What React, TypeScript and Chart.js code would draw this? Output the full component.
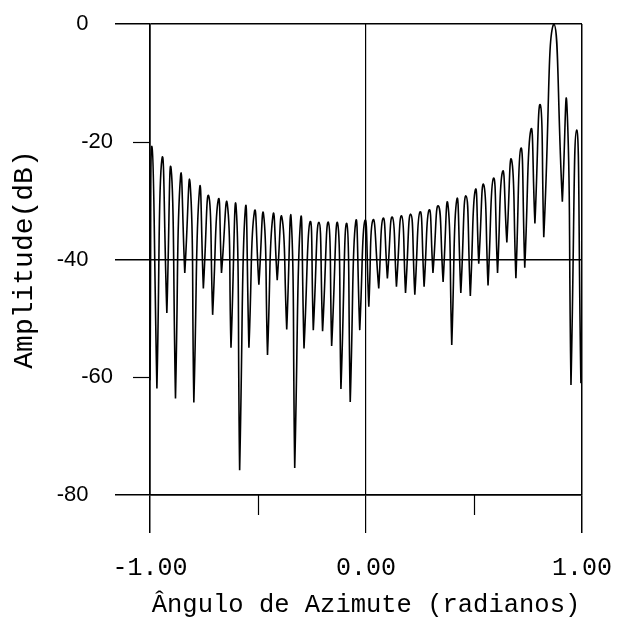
import React, { useEffect, useRef } from 'react';
import { Chart, registerables } from 'chart.js';

Chart.register(...registerables);

// Nulls of the pattern (azimuth in radians, amplitude in dB)
const nullU = [
  -1.0, -0.968, -0.922, -0.882, -0.839, -0.797, -0.753, -0.71, -0.669, -0.625,
  -0.585, -0.542, -0.496, -0.456, -0.411, -0.367, -0.33, -0.287, -0.244, -0.201,
  -0.159, -0.116, -0.073, -0.029, 0.013, 0.059, 0.099, 0.141, 0.183, 0.226,
  0.269, 0.31, 0.357, 0.397, 0.439, 0.483, 0.522, 0.565, 0.609, 0.652,
  0.694, 0.735, 0.782, 0.823, 0.909, 0.949, 0.995,
];
const nullDb = [
  -60.5, -61.9, -49.1, -63.6, -42.3, -64.3, -44.9, -49.4, -42.3, -55.0,
  -75.8, -55.0, -44.3, -56.2, -43.5, -51.9, -75.4, -55.1, -52.0, -52.2,
  -54.7, -62.0, -64.2, -52.0, -48.0, -44.9, -43.2, -44.6, -45.7, -46.0,
  -44.6, -42.3, -43.8, -54.5, -45.7, -46.2, -40.7, -44.4, -42.3, -37.1,
  -43.2, -41.4, -33.9, -36.2, -30.2, -61.3, -61.0,
];

// Lobe maxima (azimuth in radians, amplitude in dB)
const peakU = [
  -0.991, -0.945, -0.902, -0.859, -0.814, -0.771, -0.728, -0.684, -0.642, -0.601,
  -0.559, -0.517, -0.474, -0.431, -0.389, -0.346, -0.303, -0.259, -0.218, -0.174,
  -0.131, -0.089, -0.048, -0.005, 0.032, 0.079, 0.122, 0.165, 0.207, 0.25,
  0.292, 0.335, 0.379, 0.42, 0.463, 0.506, 0.545, 0.59, 0.632, 0.674,
  0.717, 0.763, 0.807, 0.869, 0.93, 0.975,
];
const peakDb = [
  -20.8, -23.0, -24.7, -26.1, -27.2, -28.2, -29.2, -29.9, -30.6, -31.2,
  -31.6, -32.0, -32.4, -32.6, -32.9, -33.3, -33.4, -33.6, -33.7, -33.7,
  -33.9, -33.9, -33.7, -33.4, -33.3, -33.0, -32.8, -32.6, -32.3, -31.9,
  -31.6, -30.9, -30.6, -29.9, -29.2, -28.2, -27.3, -26.2, -25.1, -23.1,
  -21.1, -18.0, -13.7, 0, -13.7, -18.0,
];

const xTicks = [-1, -0.5, 0, 0.5, 1];
const xLabeledTicks = [-1, 0, 1];
const yTicks = [0, -20, -40, -60, -80];
const yLongTicks = [0, -40, -80];

const xTitle = 'Ângulo de Azimute (radianos)';
const yTitle = 'Amplitude(dB)';

function buildPoints() {
  const pts: { x: number; y: number }[] = [];
  for (let i = 0; i < nullU.length; i++) {
    pts.push({ x: nullU[i], y: nullDb[i] });
    // repeat each inner null so the curve comes to a sharp point there
    if (i > 0 && i < nullU.length - 1) pts.push({ x: nullU[i], y: nullDb[i] });
    if (i < peakU.length) pts.push({ x: peakU[i], y: peakDb[i] });
  }
  return pts;
}

const shortTicks = {
  id: 'shortTicks',
  afterDraw(chart: any) {
    const { ctx, chartArea, scales } = chart;
    const x = scales.x;
    const y = scales.y;
    ctx.save();
    ctx.strokeStyle = '#000';
    ctx.lineWidth = 1.2;
    xTicks.filter((v) => !xLabeledTicks.includes(v)).forEach((v) => {
      const px = Math.round(x.getPixelForValue(v)) + 0.5;
      ctx.beginPath();
      ctx.moveTo(px, chartArea.bottom);
      ctx.lineTo(px, chartArea.bottom + 20);
      ctx.stroke();
    });
    yTicks.filter((v) => !yLongTicks.includes(v)).forEach((v) => {
      const py = Math.round(y.getPixelForValue(v)) + 0.5;
      ctx.beginPath();
      ctx.moveTo(chartArea.left - 17, py);
      ctx.lineTo(chartArea.left, py);
      ctx.stroke();
    });
    ctx.restore();
  },
};

export default function App() {
  const ref = useRef<HTMLCanvasElement | null>(null);

  useEffect(() => {
    document.body.style.margin = '0';
    const canvas = ref.current;
    if (!canvas) return;
    const chart = new Chart(canvas, {
      type: 'line',
      data: {
        datasets: [
          {
            data: buildPoints(),
            borderColor: '#000',
            borderWidth: 1.6,
            pointRadius: 0,
            tension: 0.6,
            fill: false,
          },
        ],
      },
      options: {
        animation: false,
        responsive: false,
        devicePixelRatio: 1,
        layout: { padding: { top: 24, right: 45, left: 0, bottom: 0 } },
        plugins: { legend: { display: false }, tooltip: { enabled: false } },
        scales: {
          x: {
            type: 'linear',
            min: -1,
            max: 1,
            afterBuildTicks: (scale: any) => {
              scale.ticks = xTicks.map((v) => ({ value: v }));
            },
            afterFit: (scale: any) => {
              scale.height = 126;
              scale.paddingLeft = 0;
              scale.paddingRight = 0;
            },
            border: { display: true, color: '#000', width: 1.5 },
            grid: {
              drawOnChartArea: true,
              tickLength: 38,
              color: (c: any) => (xLabeledTicks.includes(c.tick?.value) ? '#000' : 'rgba(0,0,0,0)'),
              tickColor: (c: any) => (xLabeledTicks.includes(c.tick?.value) ? '#000' : 'rgba(0,0,0,0)'),
              lineWidth: (c: any) => (c.tick?.value === 0 ? 1.2 : 1.5),
            },
            ticks: {
              autoSkip: false,
              maxRotation: 0,
              padding: 20,
              color: '#000',
              font: { family: 'Liberation Mono', size: 25 },
              callback: (v: any) => (xLabeledTicks.includes(Number(v)) ? Number(v).toFixed(2) : ''),
            },
            title: {
              display: true,
              text: xTitle,
              color: '#000',
              font: { family: 'Liberation Mono', size: 25.5, lineHeight: 1 },
              padding: { top: 0, bottom: 3 },
            },
          },
          y: {
            type: 'linear',
            min: -80,
            max: 0,
            afterBuildTicks: (scale: any) => {
              scale.ticks = yTicks.map((v) => ({ value: v }));
            },
            afterFit: (scale: any) => {
              scale.width = 150;
            },
            border: { display: true, color: '#000', width: 1.5 },
            grid: {
              drawOnChartArea: true,
              tickLength: 35,
              color: (c: any) => (yLongTicks.includes(c.tick?.value) ? '#000' : 'rgba(0,0,0,0)'),
              tickColor: (c: any) => (yLongTicks.includes(c.tick?.value) ? '#000' : 'rgba(0,0,0,0)'),
              lineWidth: 1.5,
            },
            ticks: {
              autoSkip: false,
              padding: 2,
              color: '#000',
              font: { family: 'Liberation Sans', size: 22 },
              callback: (v: any) => (yLongTicks.includes(Number(v)) ? `${v}    ` : `${v}`),
            },
            title: {
              display: true,
              text: yTitle,
              color: '#000',
              font: { family: 'Liberation Mono', size: 28, lineHeight: 1 },
              padding: { top: 11, bottom: 0 },
            },
          },
        },
      },
      plugins: [shortTicks],
    });
    return () => chart.destroy();
  }, []);

  return (
    <div style={{ width: 627, height: 621, background: '#fff' }}>
      <canvas ref={ref} width={627} height={621} style={{ display: 'block' }} />
    </div>
  );
}
